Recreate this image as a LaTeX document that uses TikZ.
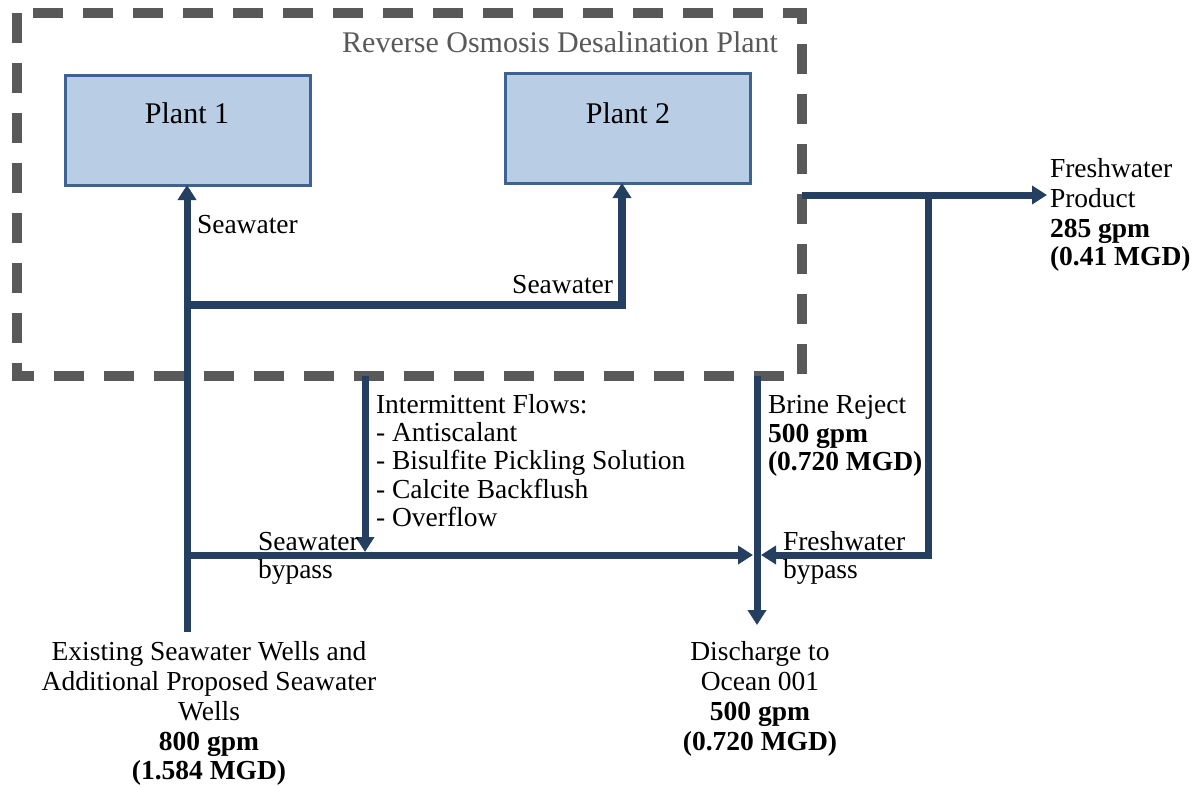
\documentclass[tikz,border=0pt]{standalone}
\usepackage{fontspec}
\setmainfont{Liberation Serif}
\usetikzlibrary{arrows.meta}
\definecolor{flowc}{RGB}{36,63,96}
\definecolor{boxfill}{HTML}{B9CDE5}
\definecolor{boxline}{HTML}{3F6391}
\definecolor{dashgray}{HTML}{595959}
\tikzset{
  flow/.style={draw=flowc, line width=7pt, line join=miter},
  tip/.style={-{Triangle[length=15pt,width=18pt]}},
  plantbox/.style={draw=boxline, fill=boxfill, line width=3pt, minimum width=245pt, minimum height=110pt, inner sep=0pt, outer sep=0pt},
  plantboundary/.style={draw=dashgray, line width=10pt, dash pattern=on 30pt off 20pt},
  lbl/.style={inner sep=0pt, outer sep=0pt, font=\fontsize{27.5}{29.7}\selectfont, anchor=base west},
  clbl/.style={lbl, anchor=base},
  rlbl/.style={lbl, anchor=base east},
  big/.style={inner sep=0pt, outer sep=0pt, font=\fontsize{30}{32}\selectfont, anchor=base},
}
\begin{document}
\begin{tikzpicture}[x=1pt,y=-1pt]
\path[use as bounding box, fill=white] (0,0) rectangle (1192,785);

% plant boundary
\draw[plantboundary] (17,13) rectangle (802,376);
\node[big, anchor=base east, text=dashgray] (title) at (778,52) {Reverse Osmosis Desalination Plant};

% plants
\node[plantbox] (plant1) at (187.5,130) {};
\node[big] (p1text) at (187,123) {Plant 1};
\node[plantbox] (plant2) at (628,128) {};
\node[big] (p2text) at (628,123) {Plant 2};

% coordinates
\coordinate (src) at (187,632);
\coordinate (j1) at (187,305);
\coordinate (j2) at (622,305);
\coordinate (j3) at (187,555);
\coordinate (swbEnd) at (753,555);
\coordinate (ifTop) at (365,376);
\coordinate (ifEnd) at (365,552);
\coordinate (brTop) at (757,376);
\coordinate (brEnd) at (757,625);
\coordinate (fwStart) at (802,195);
\coordinate (fwEnd) at (1047,195);
\coordinate (j4) at (928,195);
\coordinate (j5) at (928,555);
\coordinate (fbEnd) at (761,555);

% connectors
\draw[flow,tip] (src) -- (src |- plant1.south);
\draw[flow,tip,line width=7.5pt] (j1) -- (j2) -- (j2 |- plant2.south);
\draw[flow,tip] (j3) -- (swbEnd);
\draw[flow,tip] (ifTop) -- (ifEnd);
\draw[flow,tip] (brTop) -- (brEnd);
\draw[flow,tip] (fwStart) -- (fwEnd);
\draw[flow,tip] (j4) -- (j5) -- (fbEnd);

% labels
\node[lbl] (sw1) at (197,233) {Seawater};
\node[rlbl] (sw2) at (613,293) {Seawater};

\node[lbl] (if1) at (376,413) {Intermittent Flows:};
\node[lbl] (if2) at (376,441) {- Antiscalant};
\node[lbl] (if3) at (376,469) {- Bisulfite Pickling Solution};
\node[lbl] (if4) at (376,498) {- Calcite Backflush};
\node[lbl] (if5) at (376,526) {- Overflow};

\node[lbl] (br1) at (768,413) {Brine Reject};
\node[lbl] (br2) at (768,442) {\bfseries 500 gpm};
\node[lbl] (br3) at (768,470) {\bfseries (0.720 MGD)};

\node[lbl] (fp1) at (1050,177) {Freshwater};
\node[lbl] (fp2) at (1050,207) {Product};
\node[lbl] (fp3) at (1050,237) {\bfseries 285 gpm};
\node[lbl] (fp4) at (1050,265) {\bfseries (0.41 MGD)};

\node[lbl] (swb1) at (258,550) {Seawater};
\node[lbl] (swb2) at (258,578) {bypass};
\node[lbl] (fwb1) at (783,550) {Freshwater};
\node[lbl] (fwb2) at (783,578) {bypass};

\node[clbl] (we1) at (209,660) {Existing Seawater Wells and};
\node[clbl] (we2) at (209,690) {Additional Proposed Seawater};
\node[clbl] (we3) at (209,720) {Wells};
\node[clbl] (we4) at (209,750) {\bfseries 800 gpm};
\node[clbl] (we5) at (209,779) {\bfseries (1.584 MGD)};

\node[clbl] (dc1) at (760,660) {Discharge to};
\node[clbl] (dc2) at (760,690) {Ocean 001};
\node[clbl] (dc3) at (760,720) {\bfseries 500 gpm};
\node[clbl] (dc4) at (760,750) {\bfseries (0.720 MGD)};
\end{tikzpicture}
\end{document}
